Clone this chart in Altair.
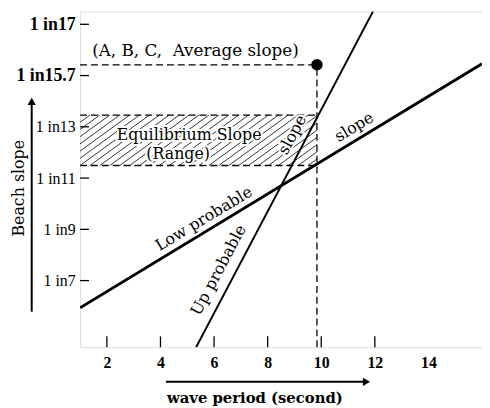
import math
import altair as alt
import pandas as pd

# ---------------- data ----------------
x_domain = [1, 16]
y_domain = [4.4, 17.5]
x_tick_values = [2, 4, 6, 8, 10, 12, 14]
x_tick_marks = [2, 4, 6, 8, 10, 12]
y_tick_values = [7, 9, 11, 13, 15, 17]
y_tick_labels = ["1 in7", "1 in9", "1 in11", "1 in13", "1 in15.7", "1 in17"]

low_x = [1, 16]
low_y = [5.94, 15.46]
up_x = [5.33, 11.93]
up_y = [4.4, 17.5]

avg_period = 9.84
avg_slope = 15.42
eq_low = 11.49
eq_high = 13.46

ann_text = ["(A, B, C,\u00a0\u00a0Average slope)", "Equilibrium Slope", "(Range)",
            "slope", "slope", "Low  probable", "Up  probable"]
ann_x = [1.45, 5.07, 4.66, 8.92, 11.23, 5.62, 6.17]
ann_y = [15.95, 12.69, 11.95, 12.69, 12.99, 9.41, 7.41]
ann_angle = [0, 0, 0, 298, 329, 329, 298]
ann_size = [17, 16, 16, 16, 16, 16, 16]
ann_align = ["left", "center", "center", "center", "center", "center", "center"]

W, H = 407, 340
SERIF = "Liberation Serif"
WIDE = "DejaVu Serif"

# ---------------- derived tables ----------------
lines_df = pd.DataFrame({
    "x": low_x + up_x,
    "y": low_y + up_y,
    "s": ["low", "low", "up", "up"],
})

def hatch_segments(spacing=0.37, angle_deg=36):
    sx = W / (x_domain[1] - x_domain[0])
    sy = H / (y_domain[1] - y_domain[0])
    k = math.tan(math.radians(angle_deg)) * sx / sy
    xl, xr = x_domain[0], avg_period
    segs = []
    a = xl - (eq_high - eq_low) / k
    while a < xr:
        y0 = max(eq_low, eq_low + (xl - a) * k)
        y1 = min(eq_high, eq_low + (xr - a) * k)
        if y1 > y0:
            segs.append({"x": a + (y0 - eq_low) / k, "y": y0,
                         "x2": a + (y1 - eq_low) / k, "y2": y1})
        a += spacing
    return pd.DataFrame(segs)

hatch_df = hatch_segments()

hrules_df = pd.DataFrame({"x": [x_domain[0]] * 3, "x2": [avg_period] * 3,
                          "y": [avg_slope, eq_high, eq_low]})
vrule_df = pd.DataFrame({"x": [avg_period], "y": [y_domain[0]], "y2": [avg_slope]})
dot_df = pd.DataFrame({"x": [avg_period], "y": [avg_slope]})
ann_df = pd.DataFrame({"text": ann_text, "x": ann_x, "y": ann_y,
                       "angle": ann_angle, "size": ann_size, "align": ann_align})
xt_df = pd.DataFrame({"t": x_tick_marks})
yt_df = pd.DataFrame({"t": y_tick_values})
one = pd.DataFrame({"a": [0]})

# ---------------- scales / axes ----------------
label_expr = " : ".join(
    f"datum.value == {v} ? '{l}'" for v, l in zip(y_tick_values, y_tick_labels)
) + " : ''"

xscale = alt.Scale(domain=x_domain, nice=False, zero=False)
yscale = alt.Scale(domain=y_domain, nice=False, zero=False)

xaxis = alt.Axis(values=x_tick_values, title=None, grid=False, ticks=False,
                 domain=False, labelFont=SERIF, labelFontSize=16,
                 labelFontWeight="bold", labelColor="black", labelPadding=8)
yaxis = alt.Axis(values=y_tick_values, title=None, grid=False, ticks=False,
                 domain=False, labelExpr=label_expr, labelFont=SERIF,
                 labelFontSize={"condition": {"test": "datum.value >= 15", "value": 18},
                                "value": 16},
                 labelColor="black", labelPadding=5,
                 labelFontWeight={"condition": {"test": "datum.value >= 15", "value": "bold"},
                                  "value": "normal"})

X = lambda f="x": alt.X(f"{f}:Q", scale=xscale, axis=xaxis)
Y = lambda f="y": alt.Y(f"{f}:Q", scale=yscale, axis=yaxis)

hatch = alt.Chart(hatch_df).mark_rule(color="black", strokeWidth=0.8).encode(
    x=X(), y=Y(), x2="x2:Q", y2="y2:Q")

hrules = alt.Chart(hrules_df).mark_rule(color="black", strokeWidth=1.3,
                                        strokeDash=[7, 4]).encode(
    x=X(), x2="x2:Q", y=Y())
vrule = alt.Chart(vrule_df).mark_rule(color="black", strokeWidth=1.3,
                                      strokeDash=[7, 4]).encode(
    x=X(), y=Y(), y2="y2:Q")

low_line = alt.Chart(lines_df).transform_filter("datum.s == 'low'").mark_line(
    color="black", strokeWidth=2.8, clip=True).encode(x=X(), y=Y())
up_line = alt.Chart(lines_df).transform_filter("datum.s == 'up'").mark_line(
    color="black", strokeWidth=1.9, clip=True).encode(x=X(), y=Y())

dot = alt.Chart(dot_df).mark_point(filled=True, color="black", size=135,
                                   opacity=1).encode(x=X(), y=Y())

ann_left = ann_df[ann_df["align"] == "left"]
ann_center = ann_df[ann_df["align"] == "center"]

def text_layers(df, align):
    base = alt.Chart(df)
    enc = dict(x=X(), y=Y(), text="text:N",
               angle=alt.Angle("angle:Q", scale=None),
               size=alt.Size("size:Q", scale=None, legend=None))
    halo = base.mark_text(font=WIDE, align=align, baseline="middle",
                          color="white", stroke="white", strokeWidth=4).encode(**enc)
    txt = base.mark_text(font=WIDE, align=align, baseline="middle",
                         color="black").encode(**enc)
    return [halo, txt]

xticks = alt.Chart(xt_df).mark_rule(color="black", strokeWidth=1.3).encode(
    x=alt.X("t:Q", scale=xscale, axis=xaxis), y=alt.value(H), y2=alt.value(H - 11))
yticks = alt.Chart(yt_df).mark_rule(color="black", strokeWidth=1.3).encode(
    y=alt.Y("t:Q", scale=yscale, axis=yaxis), x=alt.value(0), x2=alt.value(9))

# axis titles and arrows (decorations outside plot area)
y_arrow = alt.Chart(one).mark_rule(color="black", strokeWidth=2).encode(
    x=alt.value(-49), y=alt.value(304), y2=alt.value(92))
y_head = alt.Chart(one).mark_point(shape="triangle-up", filled=True, color="black",
                                   size=70, opacity=1).encode(
    x=alt.value(-49), y=alt.value(91))
y_title = alt.Chart(one).mark_text(text="Beach slope", font=WIDE, fontSize=16,
                                   angle=270, align="center", baseline="middle",
                                   color="black").encode(
    x=alt.value(-62), y=alt.value(179))

x_arrow = alt.Chart(one).mark_rule(color="black", strokeWidth=2).encode(
    x=alt.value(87), x2=alt.value(288), y=alt.value(375))
x_head = alt.Chart(one).mark_point(shape="triangle-right", filled=True, color="black",
                                   size=70, opacity=1).encode(
    x=alt.value(290), y=alt.value(375))
x_title = alt.Chart(one).mark_text(text="wave period (second)", font=WIDE,
                                   fontSize=15, fontWeight="bold", align="center",
                                   baseline="middle", color="black").encode(
    x=alt.value(177), y=alt.value(391))

layers = [hatch, hrules, vrule, low_line, up_line, dot]
layers += text_layers(ann_left, "left") + text_layers(ann_center, "center")
layers += [xticks, yticks, y_arrow, y_head, y_title, x_arrow, x_head, x_title]

chart = alt.layer(*layers).properties(
    width=W, height=H,
    autosize=alt.AutoSizeParams(type="none"),
    padding={"left": 73, "top": 1, "right": 0, "bottom": 58},
).configure_view(stroke="black", strokeWidth=1.6).configure(background="white")

chart.save("out.html", embed_options={"renderer": "svg", "actions": False})
